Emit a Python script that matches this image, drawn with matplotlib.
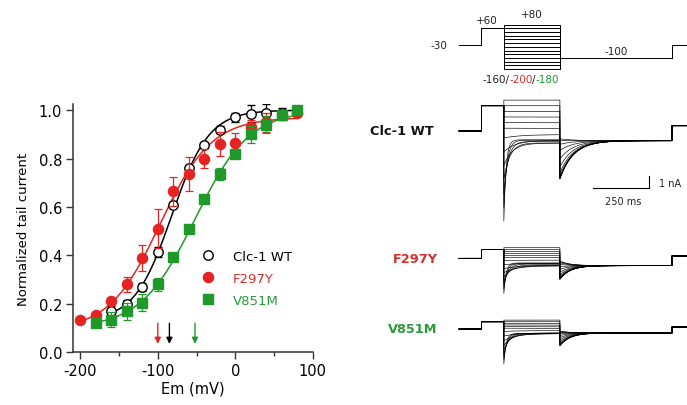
import numpy as np
import matplotlib.pyplot as plt
from matplotlib.lines import Line2D

plt.rcParams['font.family'] = 'DejaVu Sans'
plt.rcParams['axes.unicode_minus'] = False

RED = '#e52421'
GREEN = '#1f9a2a'
RED_TXT = '#d0312d'
GREEN_TXT = '#2e9a3a'

# ---- steady-state activation data (normalized tail current) ----
wt_v = [-160, -140, -120, -100, -80, -60, -40, -20, 0, 20, 40, 60, 80]
wt_y = [0.17, 0.20, 0.27, 0.415, 0.61, 0.76, 0.855, 0.92, 0.97, 0.985, 0.99, 0.99, 0.995]
wt_err = [0.02, 0.015, 0.015, 0.02, 0.01, 0.01, 0.01, 0.015, 0.02, 0.035, 0.035, 0.02, 0.0]

f297y_v = [-200, -180, -160, -140, -120, -100, -80, -60, -40, -20, 0, 20, 40, 60, 80]
f297y_y = [0.134, 0.156, 0.21, 0.28, 0.39, 0.51, 0.665, 0.735, 0.80, 0.86, 0.865, 0.93, 0.95, 0.98, 0.99]
f297y_err = [0.0, 0.01, 0.01, 0.03, 0.055, 0.08, 0.06, 0.07, 0.04, 0.05, 0.04, 0.03, 0.04, 0.02, 0.0]

v851m_v = [-180, -160, -140, -120, -100, -80, -60, -40, -20, 0, 20, 40, 60, 80]
v851m_y = [0.12, 0.135, 0.17, 0.205, 0.28, 0.395, 0.51, 0.635, 0.735, 0.82, 0.90, 0.94, 0.98, 1.0]
v851m_err = [0.015, 0.03, 0.035, 0.035, 0.025, 0.01, 0.01, 0.01, 0.025, 0.015, 0.035, 0.035, 0.01, 0.0]

# Boltzmann fits: min, max, V1/2, slope
wt_fit = [0.13, 1.0, -82, 24]
f297y_fit = [0.09, 0.97, -97, 33]
v851m_fit = [0.10, 1.0, -52, 35]

# V1/2 arrows
arrow_v = [-100, -85, -52]
arrow_col = [RED, 'black', GREEN]

# ---- voltage protocol (mV) and durations (ms) ----
seg_ms = [100, 100, 250, 500, 70]
hold_mv, pre_mv, tail_mv = -30, 60, -100
wt_steps = list(range(80, -161, -20))
f297y_steps = list(range(80, -201, -20))
v851m_steps = list(range(80, -181, -20))

# current trace parameters (nA): prepulse, peak at most negative step, tail max, tail steady, end level
wt_trace = dict(pre=2.16, peak=-7.7, ss_scale=0.6, tail_max=-4.1, tail_ss=-0.83, end=0.45, tau_tail=60)
f297y_trace = dict(pre=0.74, peak=-3.0, ss_scale=1.0, tail_max=-1.8, tail_ss=-0.63, end=0.2, tau_tail=45)
v851m_trace = dict(pre=0.62, peak=-3.0, ss_scale=1.0, tail_max=-1.45, tail_ss=-0.34, end=0.17, tau_tail=45)


def boltz(v, p):
    lo, hi, vh, k = p
    return lo + (hi - lo) / (1 + np.exp((vh - np.asarray(v, float)) / k))


fig = plt.figure(figsize=(6.87, 4.06), dpi=100)
W, H = 687.0, 406.0


def px_axes(x0, x1, ytop, ybot):
    a = fig.add_axes([x0 / W, 1 - ybot / H, (x1 - x0) / W, (ybot - ytop) / H])
    return a


# ================= left panel =================
ax = px_axes(73.3, 312.8, 105.1, 353.3)
ax.set_xlim(-209, 100)
ax.set_ylim(0, 1.025)

for fit, rng, col in [(wt_fit, (-160, 80), 'black'), (f297y_fit, (-200, 80), RED), (v851m_fit, (-180, 80), GREEN)]:
    vv = np.linspace(rng[0], rng[1], 300)
    ax.plot(vv, boltz(vv, fit), color=col, lw=1.1, zorder=2)

ax.errorbar(wt_v, wt_y, yerr=wt_err, fmt='o', ms=6.8, mfc='white', mec='black', mew=1.0,
            ecolor='black', elinewidth=0.9, capsize=3, capthick=0.9, zorder=3)
ax.errorbar(f297y_v, f297y_y, yerr=f297y_err, fmt='o', ms=7.3, mfc=RED, mec=RED,
            ecolor=RED, elinewidth=0.9, capsize=3, capthick=0.9, zorder=4)
ax.errorbar(v851m_v, v851m_y, yerr=v851m_err, fmt='s', ms=6.6, mfc=GREEN, mec=GREEN,
            ecolor=GREEN, elinewidth=0.9, capsize=3, capthick=0.9, zorder=5)

for xv, c in zip(arrow_v, arrow_col):
    ax.annotate('', xy=(xv, 0.035), xytext=(xv, 0.12),
                arrowprops=dict(arrowstyle='-|>', color=c, lw=1.0, mutation_scale=9,
                                shrinkA=0, shrinkB=0))

handles = [Line2D([], [], marker='o', ls='none', ms=6.8, mfc='white', mec='black', mew=1.0),
           Line2D([], [], marker='o', ls='none', ms=7.3, mfc=RED, mec=RED),
           Line2D([], [], marker='s', ls='none', ms=6.6, mfc=GREEN, mec=GREEN)]
ax.legend(handles, ['Clc-1 WT', 'F297Y', 'V851M'], loc='upper left', bbox_to_anchor=(0.535, 0.412),
          frameon=False, fontsize=9.5, handlelength=1.0, handletextpad=1.4, labelspacing=0.68,
          borderpad=0, borderaxespad=0, labelcolor=['black', RED_TXT, GREEN_TXT])

ax.spines['top'].set_visible(False)
ax.spines['right'].set_visible(False)
for s in ['left', 'bottom']:
    ax.spines[s].set_color('#333333')
    ax.spines[s].set_linewidth(1.1)
ax.set_xticks([-200, -100, 0, 100])
ax.set_xticks([-150, -50, 50], minor=True)
ax.set_yticks([0.0, 0.2, 0.4, 0.6, 0.8, 1.0])
ax.set_yticklabels(['0.0', '0.2', '0.4', '0.6', '0.8', '1.0'])
ax.tick_params(which='major', direction='out', length=5, width=1.0, labelsize=10.5, color='#333333', pad=3)
ax.tick_params(which='minor', direction='out', length=3, width=1.0, color='#333333')
ax.set_xlabel('Em (mV)', fontsize=10.5, labelpad=1.5)
ax.set_ylabel('Normalized tail current', fontsize=9.5, labelpad=6)

# ================= right panel =================
PX_MS = 0.2242
T0_PX = 459.0
x_left, x_right = 440.0, 687.0
t_lim = ((x_left - T0_PX) / PX_MS, (x_right - T0_PX) / PX_MS)
edges = np.cumsum([0] + seg_ms)


def clean(a):
    a.set_xlim(*t_lim)
    a.axis('off')


# voltage protocol: y px = 46 - (V + 30) * 0.185
PX_MV = 0.185
ap = px_axes(x_left, x_right, 46 - 130 * PX_MV, 46 + 140 * PX_MV)
ap.set_ylim(-170, 100)
clean(ap)
for v in wt_steps:
    levels = [hold_mv, pre_mv, v, tail_mv, hold_mv, hold_mv]
    ap.plot(edges, levels, drawstyle='steps-post', color='black', lw=0.7)
txt_kw = dict(fontsize=7.5, color='#222222')
ap.text(-53, hold_mv, '-30', ha='right', va='center', **txt_kw)
ap.text(123, 105, '+60', ha='center', va='center', **txt_kw)
ap.text(326, 137, '+80', ha='center', va='center', **txt_kw)
ap.text(702, -62, '-100', ha='center', va='center', **txt_kw)
t1 = ap.text(103, -214, '-160/', ha='left', va='center', **txt_kw)
t2 = ap.annotate('-200', xy=(1, 0), xycoords=t1, ha='left', va='bottom', fontsize=7.5, color=RED)
t3 = ap.annotate('/', xy=(1, 0), xycoords=t2, ha='left', va='bottom', fontsize=7.5, color='#222222')
ap.annotate('-180', xy=(1, 0), xycoords=t3, ha='left', va='bottom', fontsize=7.5, color=GREEN)

# current traces, 11.7 px per nA
PX_NA = 11.7


def draw_traces(a, steps, p, fit):
    g_out = p['pre'] / (pre_mv - hold_mv)
    g_in = p['peak'] / (min(steps) - hold_mv)
    vmin = min(steps)
    for v in steps:
        g = g_out if v > hold_mv else g_in
        inst = g * (v - hold_mv)
        ss = inst * boltz(v, fit) / boltz(pre_mv, fit)
        if v < hold_mv:
            ss = ss * p['ss_scale']
        tau = 10 * np.exp((v - vmin) / 60.0)
        tt = np.linspace(0, seg_ms[2], 400)
        i_test = ss + (inst - ss) * np.exp(-tt / tau)
        tt2 = np.linspace(0, seg_ms[3], 400)
        i0 = p['tail_max'] * boltz(v, fit) / boltz(80, fit)
        i_tail = p['tail_ss'] + (i0 - p['tail_ss']) * np.exp(-tt2 / p['tau_tail'])
        t = np.concatenate([[0, edges[1], edges[1], edges[2]], edges[2] + tt, edges[3] + tt2,
                            [edges[4], edges[5]]])
        i = np.concatenate([[0, 0, p['pre'], p['pre']], i_test, i_tail, [p['end'], p['end']]])
        a.plot(t, i, color='black', lw=0.45)


def trace_axes(base_px, lo, hi):
    a = px_axes(x_left, x_right, base_px - hi * PX_NA, base_px - lo * PX_NA)
    a.set_ylim(lo, hi)
    clean(a)
    return a


lab_kw = dict(ha='right', va='center', fontsize=9.3, fontweight='bold')

aw = trace_axes(132.0, -8.5, 2.8)
draw_traces(aw, wt_steps, wt_trace, wt_fit)
aw.text(-111, 0, 'Clc-1 WT', color='#111111', **lab_kw)
# scale bar
bar_t, bar_i = 598, -4.87
aw.plot([bar_t, bar_t + 250, bar_t + 250], [bar_i, bar_i, bar_i + 1], color='black', lw=0.8)
aw.text(bar_t + 250 + 44, bar_i + 0.45, '1 nA', ha='left', va='center', fontsize=7, color='#222222')
aw.text(bar_t + 125 + 10, bar_i - 1.1, '250 ms', ha='center', va='center', fontsize=7, color='#222222')

af = trace_axes(259.3, -3.4, 1.2)
draw_traces(af, f297y_steps, f297y_trace, f297y_fit)
af.text(-94, 0, 'F297Y', color=RED_TXT, **lab_kw)

av = trace_axes(330.0, -3.4, 1.2)
draw_traces(av, v851m_steps, v851m_trace, v851m_fit)
av.text(-98, 0, 'V851M', color=GREEN_TXT, **lab_kw)

fig.savefig('out.png', dpi=100)
